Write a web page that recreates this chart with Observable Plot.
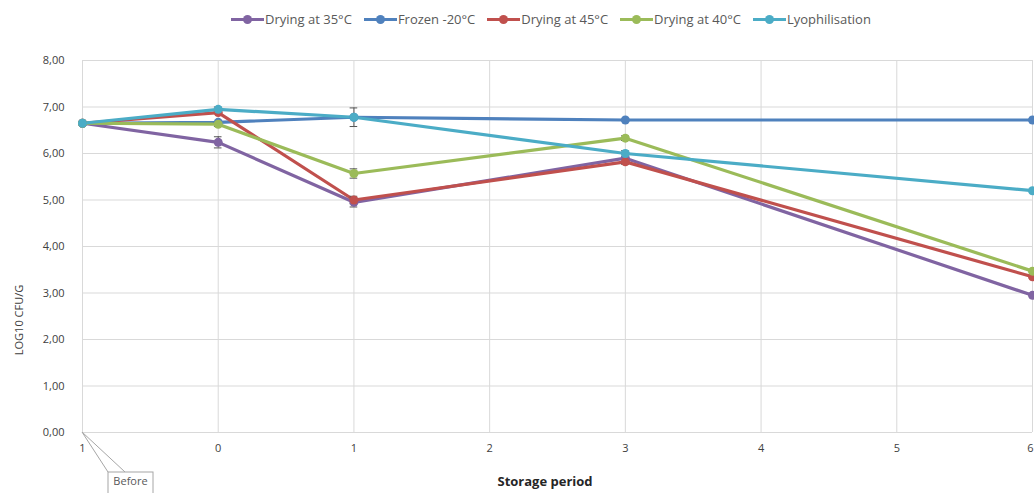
<!DOCTYPE html>
<html><head><meta charset="utf-8">
<script src="https://cdn.jsdelivr.net/npm/d3@7"></script>
<script src="https://cdn.jsdelivr.net/npm/@observablehq/plot@0.6"></script>
<style>
body{margin:0;background:#fff;font-family:"Open Sans",sans-serif;}
#wrap{position:relative;width:1034px;height:493px;overflow:hidden;background:#fff}
#legend{position:absolute;left:82px;top:0;width:950px;height:38px;display:flex;justify-content:center;align-items:center;font-size:13px;color:#595959;}
.item{display:flex;align-items:center;margin-right:12px;white-space:nowrap}
.sw{position:relative;width:33px;height:10px;margin-right:1px}
.sw .ln{position:absolute;left:0;right:0;top:3.5px;height:3px}
.sw .dt{position:absolute;left:12px;top:1px;width:9px;height:9px;border-radius:50%}
#ylab{position:absolute;left:18px;top:320px;transform:translate(-50%,-50%) rotate(-90deg);font-size:11px;color:#404040;white-space:nowrap}
#xlab{position:absolute;left:545px;top:481px;transform:translate(-50%,-50%);font-size:13px;font-weight:bold;color:#262626;white-space:nowrap}
#chart{position:absolute;left:0;top:40px}
</style>
</head><body>
<div id="wrap">
<div id="legend"></div>
<div id="chart"></div>
<div id="ylab">LOG10 CFU/G</div>
<div id="xlab">Storage period</div>
</div>
<script>
// ---- data ----
const periods = [-1, 0, 1, 3, 6];
const xTickValues = [-1, 0, 1, 2, 3, 4, 5, 6];
const xTickLabels = ["1", "0", "1", "2", "3", "4", "5", "6"];
const yTickValues = [0, 1, 2, 3, 4, 5, 6, 7, 8];
const seriesNames = ["Drying at 35°C", "Frozen -20°C", "Drying at 45°C", "Drying at 40°C", "Lyophilisation"];
const seriesColors = ["#8064A2", "#4F81BD", "#C0504D", "#9BBB59", "#4BACC6"];
const drying35 = [6.65, 6.24, 4.95, 5.90, 2.95];
const frozen20 = [6.65, 6.67, 6.78, 6.72, 6.72];
const drying45 = [6.65, 6.88, 5.00, 5.82, 3.35];
const drying40 = [6.65, 6.63, 5.57, 6.33, 3.47];
const lyophil  = [6.65, 6.95, 6.78, 6.00, 5.20];
const err35 = [0, 0.12, 0.10, 0.12, 0];
const errFr = [0, 0, 0, 0, 0];
const err45 = [0, 0, 0.08, 0.05, 0];
const err40 = [0, 0.05, 0.10, 0.05, 0];
const errLy = [0, 0.05, 0.20, 0.06, 0];
const annotationText = "Before";

const valueSets = [drying35, frozen20, drying45, drying40, lyophil];
const errSets = [err35, errFr, err45, err40, errLy];
const rows = [];
seriesNames.forEach((name, s) => {
  periods.forEach((p, i) => rows.push({series: name, x: p, y: valueSets[s][i], e: errSets[s][i]}));
});
const errRows = rows.filter(d => d.e > 0);

// ---- legend ----
const legend = document.getElementById("legend");
seriesNames.forEach((n, i) => {
  const it = document.createElement("div"); it.className = "item";
  it.innerHTML = `<div class="sw"><div class="ln" style="background:${seriesColors[i]}"></div><div class="dt" style="background:${seriesColors[i]}"></div></div><span>${n}</span>`;
  legend.appendChild(it);
});

const W = 1034, H = 453, mL = 82, mR = 2, mT = 20, mB = 61;
const color = {domain: seriesNames, range: seriesColors};
const lastTick = xTickValues[xTickValues.length - 1];
const marks = [
  Plot.gridX(xTickValues, {stroke: "#d9d9d9", strokeOpacity: 1}),
  Plot.gridY(yTickValues, {stroke: "#d9d9d9", strokeOpacity: 1}),
  Plot.axisY(yTickValues, {tickSize: 0, tickPadding: 18, tickFormat: d => d.toFixed(2).replace(".", ","), fontSize: 11, fill: "#404040", label: null}),
  Plot.axisX(xTickValues.filter(v => v !== lastTick), {tickSize: 0, tickPadding: 12, tickFormat: d => xTickLabels[xTickValues.indexOf(d)], fontSize: 11, fill: "#404040", label: null}),
  Plot.axisX([lastTick], {tickSize: 0, tickPadding: 12, textAnchor: "end", dx: 1, tickFormat: d => xTickLabels[xTickValues.indexOf(d)], fontSize: 11, fill: "#404040", label: null})
];
seriesNames.forEach(n => {
  const data = rows.filter(d => d.series === n);
  marks.push(Plot.line(data, {x: "x", y: "y", stroke: "series", strokeWidth: 3.2, curve: "linear"}));
});
marks.push(Plot.ruleX(errRows, {x: "x", y1: d => d.y - d.e, y2: d => d.y + d.e, stroke: "#555", strokeWidth: 1}));
marks.push(Plot.ruleY(errRows, {y: d => d.y - d.e, x1: d => d.x - 0.028, x2: d => d.x + 0.028, stroke: "#555", strokeWidth: 1}));
marks.push(Plot.ruleY(errRows, {y: d => d.y + d.e, x1: d => d.x - 0.028, x2: d => d.x + 0.028, stroke: "#555", strokeWidth: 1}));
seriesNames.forEach(n => {
  const data = rows.filter(d => d.series === n);
  marks.push(Plot.dot(data, {x: "x", y: "y", fill: "series", r: 4.5}));
});

const plot = Plot.plot({
  width: W, height: H,
  marginLeft: mL, marginRight: mR, marginTop: mT, marginBottom: mB,
  style: {fontFamily: "'Open Sans', sans-serif", background: "transparent", overflow: "visible"},
  x: {type: "linear", domain: [-1, 6], axis: null},
  y: {domain: [0, 8], axis: null},
  color,
  marks
});
document.getElementById("chart").appendChild(plot);

// ---- "Before" callout anchored at the first period on the baseline ----
let sx, sy;
try { sx = plot.scale("x"); sy = plot.scale("y"); } catch(e) {}
const fx = (sx && sx.apply) ? v => sx.apply(v) : d3.scaleLinear([-1, 6], [mL, W - mR]);
const fy = (sy && sy.apply) ? v => sy.apply(v) : d3.scaleLinear([0, 8], [H - mB, mT]);
const ax = fx(periods[0]), ay = fy(0);
const g = d3.select(plot).append("g");
const bx = ax + 26, by = ay + 40, bw = 45, bh = 24;
g.append("path").attr("d", `M${ax},${ay}L${bx},${by}M${ax},${ay}L${bx + 17},${by}`).attr("stroke", "#a6a6a6").attr("fill", "none");
g.append("rect").attr("x", bx).attr("y", by).attr("width", bw).attr("height", bh).attr("fill", "#fff").attr("stroke", "#a6a6a6");
g.append("text").attr("x", bx + bw / 2).attr("y", by + 13).attr("text-anchor", "middle").attr("font-size", 11).attr("fill", "#595959").text(annotationText);
</script>
</body></html>
